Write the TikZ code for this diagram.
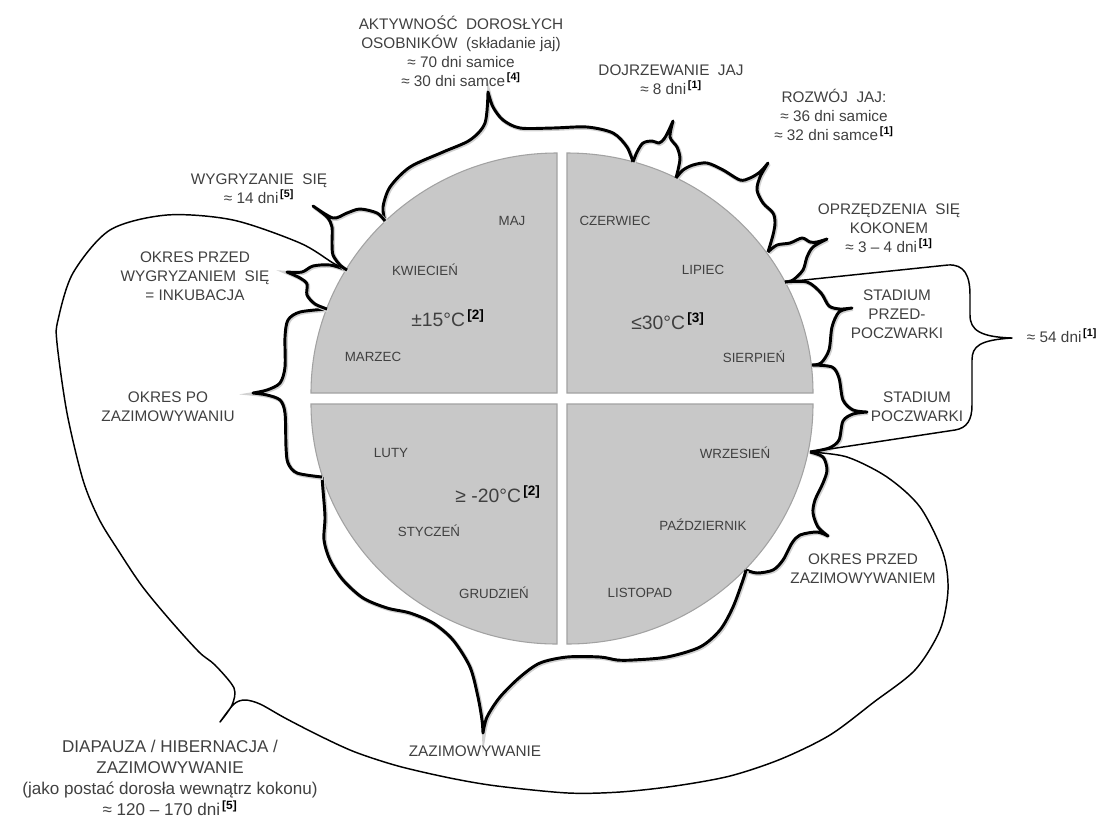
\documentclass[tikz,border=0pt]{standalone}
\usepackage{fontspec}
\setmainfont{Liberation Sans}
\definecolor{quadfill}{HTML}{C8C8C8}
\definecolor{quadedge}{HTML}{A2A2A2}
\definecolor{txt}{HTML}{404040}
\newcommand{\refnum}[1]{\textsuperscript{\,\bfseries\color{black}[#1]}}

\begin{document}
\begin{tikzpicture}[x=0.75pt,y=-0.75pt,
  month/.style={text=txt,font=\fontsize{10}{12}\selectfont},
  temp/.style={text=txt,font=\fontsize{14.5}{16}\selectfont},
  lbl/.style={text=txt,align=center,font=\fontsize{11.5}{14.2}\selectfont},
  biglbl/.style={text=txt,align=center,font=\fontsize{12.8}{15.8}\selectfont},
  brace/.style={line width=2.2pt,line join=round,
    preaction={draw=black!18,line width=3pt,transform canvas={shift={(0.7pt,-0.7pt)}}}},
  thinline/.style={line width=1.1pt,line join=round}]
 \useasboundingbox (0,0) rectangle (1114,819);
 % quarters of the year
 \filldraw[fill=quadfill,draw=quadedge,line width=0.8pt] (557,393) -- (311,393) arc[start angle=180,end angle=270,x radius=246,y radius=240] -- cycle;
 \filldraw[fill=quadfill,draw=quadedge,line width=0.8pt] (567,393) -- (567,153) arc[start angle=270,end angle=360,x radius=246,y radius=240] -- cycle;
 \filldraw[fill=quadfill,draw=quadedge,line width=0.8pt] (557,404) -- (557,644) arc[start angle=90,end angle=180,x radius=246,y radius=240] -- cycle;
 \filldraw[fill=quadfill,draw=quadedge,line width=0.8pt] (567,404) -- (813,404) arc[start angle=0,end angle=90,x radius=246,y radius=240] -- cycle;
 % months
 \node[month] (maj) at (512,221) {MAJ};
 \node[month] (kwi) at (425,270) {KWIECIEŃ};
 \node[month] (mar) at (373,357) {MARZEC};
 \node[month] (cze) at (615,221) {CZERWIEC};
 \node[month] (lip) at (703,270) {LIPIEC};
 \node[month] (sie) at (754,357) {SIERPIEŃ};
 \node[month] (lut) at (391,453) {LUTY};
 \node[month] (sty) at (429,531) {STYCZEŃ};
 \node[month] (gru) at (494,593) {GRUDZIEŃ};
 \node[month] (wrz) at (735,453) {WRZESIEŃ};
 \node[month] (paz) at (703,525) {PAŹDZIERNIK};
 \node[month] (lis) at (640,593) {LISTOPAD};
 \node[temp] (t15) at (448,318) {±15°C\refnum{2}};
 \node[temp] (t30) at (668,321) {≤30°C\refnum{3}};
 \node[temp] (t20) at (498,494) {≥ -20°C\refnum{2}};
 % points on the rim
 \coordinate (j1) at (347,270);
 \coordinate (j2) at (385,221);
 \coordinate (j3) at (633,162);
 \coordinate (j4) at (676,178);
 \coordinate (j5) at (768,252);
 \coordinate (j6) at (785,282);
 \coordinate (j7) at (812,365);
 \coordinate (j8) at (810,452);
 \coordinate (j9) at (746,570);
 \coordinate (j10) at (322,477);
 \coordinate (j11) at (327,309);
 % brace tips
 \coordinate (tAkt) at (488,92);
 \coordinate (tDoj) at (673,121);
 \coordinate (tRoz) at (768,163);
 \coordinate (tOpr) at (827,239);
 \coordinate (tPrz) at (852,308);
 \coordinate (tPoc) at (867,412);
 \coordinate (tSum) at (1012,338);
 \coordinate (tPrzZ) at (828,536);
 \coordinate (tZaz) at (483,733);
 \coordinate (tPo) at (253,393);
 \coordinate (tInk) at (287,272);
 \coordinate (tWyg) at (313,206);
 \coordinate (tDia) at (220,722);
 % braces
 \draw[brace] plot[smooth] coordinates {(j2) (383,207) (390,187) (410,167) (443,152) (470,140) (485,123) (tAkt)}
   -- plot[smooth] coordinates {(tAkt) (493,107) (503,120) (520,128) (553,128) (587,127) (613,133) (627,147) (j3)};
 \draw[brace] plot[smooth] coordinates {(j3) (637,152) (643,143) (652,141) (659,143) (664,139) (668,132) (tDoj)}
   -- plot[smooth] coordinates {(tDoj) (670,137) (677,147) (680,158) (678,170) (j4)};
 \draw[brace] plot[smooth] coordinates {(j4) (683,170) (693,165) (707,163) (723,170) (740,180) (750,178) (760,172) (tRoz)}
   -- plot[smooth] coordinates {(tRoz) (760,177) (757,190) (763,203) (773,213) (775,223) (773,235) (j5)};
 \draw[brace] plot[smooth] coordinates {(j5) (777,245) (790,243) (802,238) (810,242) (817,242) (tOpr)}
   -- plot[smooth] coordinates {(tOpr) (813,247) (807,257) (803,270) (793,280) (j6)};
 \draw[brace] plot[smooth] coordinates {(j6) (807,282) (821,293) (829,306) (840,309) (tPrz)}
   -- plot[smooth] coordinates {(tPrz) (839,312) (832,327) (829,350) (821,363) (j7)};
 \draw[brace] plot[smooth] coordinates {(j7) (832,367) (839,378) (843,400) (853,410) (tPoc)}
   -- plot[smooth] coordinates {(tPoc) (853,414) (843,421) (839,440) (829,448) (j8)};
 \draw[brace] plot[smooth] coordinates {(j8) (823,457) (827,470) (823,483) (815,500) (813,513) (818,527) (tPrzZ)}
   -- plot[smooth] coordinates {(tPrzZ) (817,532) (800,535) (792,543) (783,560) (773,570) (757,573) (j9)};
 \draw[brace] plot[smooth] coordinates {(j10) (323,490) (325,517) (324,540) (330,560) (343,580) (363,598) (387,608) (410,613) (433,623) (453,640) (470,667) (478,697) (482,720) (tZaz)}
   -- plot[smooth] coordinates {(tZaz) (487,717) (500,697) (520,677) (540,663) (567,657) (600,657) (617,660) (633,660) (667,657) (700,647) (720,630) (733,607) (743,580) (j9)};
 \draw[brace] plot[smooth] coordinates {(j11) (300,312) (288,320) (285,337) (285,367) (280,383) (267,390) (tPo)}
   -- plot[smooth] coordinates {(tPo) (267,395) (280,400) (285,413) (286,447) (288,463) (297,473) (j10)};
 \draw[brace] plot[smooth] coordinates {(j1) (330,265) (313,266) (302,272) (tInk)}
   -- plot[smooth] coordinates {(tInk) (300,278) (307,284) (307,295) (315,304) (j11)};
 \draw[brace] plot[smooth] coordinates {(j2) (377,213) (360,209) (347,213) (333,218) (tWyg)}
   -- plot[smooth] coordinates {(tWyg) (327,217) (332,227) (332,243) (333,255) (340,265) (j1)};
 % pupa brace and the winter loop
 \draw[thinline] (j6) -- (948,265) .. controls (964,264) and (970,275) .. (970,295) -- (970,315)
   .. controls (970,330) and (980,337) .. (tSum) .. controls (980,340) and (972,346) .. (972,360)
   -- (972,405) .. controls (972,420) and (967,428) .. (955,430) -- (j8);
 \draw[thinline] plot[smooth] coordinates {(j8) (847,457) (887,477) (920,507) (943,553) (948,590) (940,630) (915,670) (874,702) (830,735) (781,759) (730,776) (675,786) (620,792) (568,793) (497,786) (450,778) (398,766) (355,752) (320,736) (285,718) (260,704) (245,700) (234,704) (tDia)}
   -- plot[smooth] coordinates {(tDia) (232,705) (234,688) (215,665) (199,652) (170,620) (142,586) (118,550) (99,519) (83,480) (67,413) (57,343) (58,320) (73,273) (110,230) (167,215) (233,220) (300,243) (333,263) (j1)};
 % labels
 \node[lbl] (akt) at (461,51) {AKTYWNOŚĆ\ \ DOROSŁYCH\\OSOBNIKÓW\ \ (składanie jaj)\\≈ 70 dni samice\\≈ 30 dni samce\refnum{4}};
 \node[lbl] (doj) at (671,80) {DOJRZEWANIE\ \ JAJ\\≈ 8 dni\refnum{1}};
 \node[lbl] (roz) at (834,115) {ROZWÓJ\ \ JAJ:\\≈ 36 dni samice\\≈ 32 dni samce\refnum{1}};
 \node[lbl] (wyg) at (259,189) {WYGRYZANIE\ \ SIĘ\\≈ 14 dni\refnum{5}};
 \node[lbl] (ink) at (195,276) {OKRES PRZED\\WYGRYZANIEM\ \ SIĘ\\= INKUBACJA};
 \node[lbl] (po) at (168,407) {OKRES PO\\ZAZIMOWYWANIU};
 \node[lbl] (opr) at (889,228) {OPRZĘDZENIA\ \ SIĘ\\KOKONEM\\≈ 3 – 4 dni\refnum{1}};
 \node[lbl] (przed) at (897,314) {STADIUM\\PRZED-\\POCZWARKI};
 \node[lbl] (pocz) at (917,407) {STADIUM\\POCZWARKI};
 \node[lbl] (sum) at (1062,336) {≈ 54 dni\refnum{1}};
 \node[lbl] (przz) at (863,569) {OKRES PRZED\\ZAZIMOWYWANIEM};
 \node[lbl] (zaz) at (475,751) {ZAZIMOWYWANIE};
 \node[biglbl] (dia) at (170,778) {DIAPAUZA / HIBERNACJA /\\ZAZIMOWYWANIE\\(jako postać dorosła wewnątrz kokonu)\\≈ 120 – 170 dni\refnum{5}};
\end{tikzpicture}
\end{document}
